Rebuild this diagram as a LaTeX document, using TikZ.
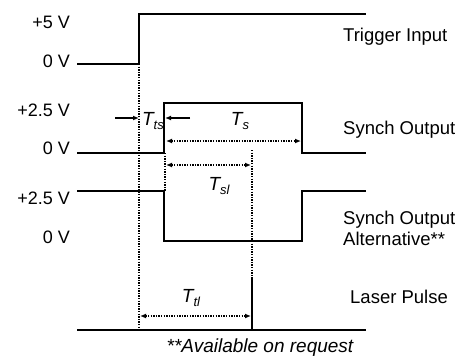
\documentclass[tikz,border=0pt]{standalone}
\usepackage{fontspec}
\setmainfont{Liberation Sans}
\usetikzlibrary{arrows.meta}

\newcommand{\tlab}[1]{T\raisebox{-4pt}{\fontsize{13}{13}\selectfont #1}}

\begin{document}
\begin{tikzpicture}[
    x=1pt, y=-1pt,
    >={Latex[length=6pt, width=5pt]},
    wave/.style={line width=1.6pt},
    guide/.style={line width=1.3pt, dash pattern=on 1.3pt off 1.3pt},
    lvl/.style={anchor=east, inner sep=0pt, font=\fontsize{18}{20}\selectfont},
    sig/.style={anchor=west, align=left, inner sep=0pt, font=\fontsize{18.5}{21}\selectfont},
    tlbl/.style={inner sep=0pt, font=\fontsize{19}{20}\selectfont\itshape}
]
    \useasboundingbox (0,0) rectangle (463,356);

    % Voltage levels
    \node[lvl] (trig_hi) at (70,22) {+5 V};
    \node[lvl] (trig_lo) at (70,61) {0 V};
    \node[lvl] (sync_hi) at (70,110) {+2.5 V};
    \node[lvl] (sync_lo) at (70,148) {0 V};
    \node[lvl] (alt_hi) at (70,198) {+2.5 V};
    \node[lvl] (alt_lo) at (70,237) {0 V};

    % Signal names
    \node[sig] (trig_name) at (343,37) {Trigger Input};
    \node[sig] (sync_name) at (343,130) {Synch Output};
    \node[sig] (alt_name) at (343,228) {Synch Output\\Alternative**};
    \node[sig] (laser_name) at (350,297) {Laser Pulse};

    % Waveforms
    \draw[wave] (77,64) -- (139,64) -- (139,14) -- (366,14);
    \draw[wave] (77,153) -- (164,153) -- (164,103) -- (302,103) -- (302,153) -- (366,153);
    \draw[wave] (77,191) -- (164,191) -- (164,241) -- (302,241) -- (302,191) -- (366,191);
    \draw[wave] (77,330) -- (366,330);
    \draw[line width=2.6pt] (252,330) -- (252,279);

    % Timing marks
    \coordinate (trig_edge) at (139,64);
    \coordinate (trig_foot) at (139,330);
    \coordinate (sync_edge) at (165,153);
    \coordinate (sync_foot) at (165,191);
    \coordinate (laser_top) at (252,279);
    \coordinate (laser_guide) at (252,150);

    \draw[guide] (trig_edge) -- (trig_foot);
    \draw[guide] (sync_edge) -- (sync_foot);
    \draw[guide] (laser_guide) -- (laser_top);

    % T_ts
    \coordinate (ts_l) at (115,118);
    \coordinate (ts_r) at (190,118);
    \draw[->, line width=1.3pt] (ts_l) -- (ts_l -| trig_edge);
    \draw[->, line width=1.3pt] (ts_r) -- (ts_r -| sync_edge);
    \node[tlbl] (lbl_ts) at (153,121) {\tlab{ts}};

    % T_s
    \coordinate (s_l) at (166,141);
    \coordinate (s_r) at (301,141);
    \draw[guide, <->] (s_l) -- (s_r);
    \node[tlbl] (lbl_s) at (240,121) {\tlab{s}};

    % T_sl
    \coordinate (sl_l) at (166,165);
    \coordinate (sl_r) at (251,165);
    \draw[guide, <->] (sl_l) -- (sl_r);
    \node[tlbl] (lbl_sl) at (219,186) {\tlab{sl}};

    % T_tl
    \coordinate (tl_l) at (140,316);
    \coordinate (tl_r) at (251,316);
    \draw[guide, <->] (tl_l) -- (tl_r);
    \node[tlbl] (lbl_tl) at (191,298) {\tlab{tl}};

    % Footnote
    \node[tlbl] (note) at (260,348) {**Available on request};

\end{tikzpicture}
\end{document}
